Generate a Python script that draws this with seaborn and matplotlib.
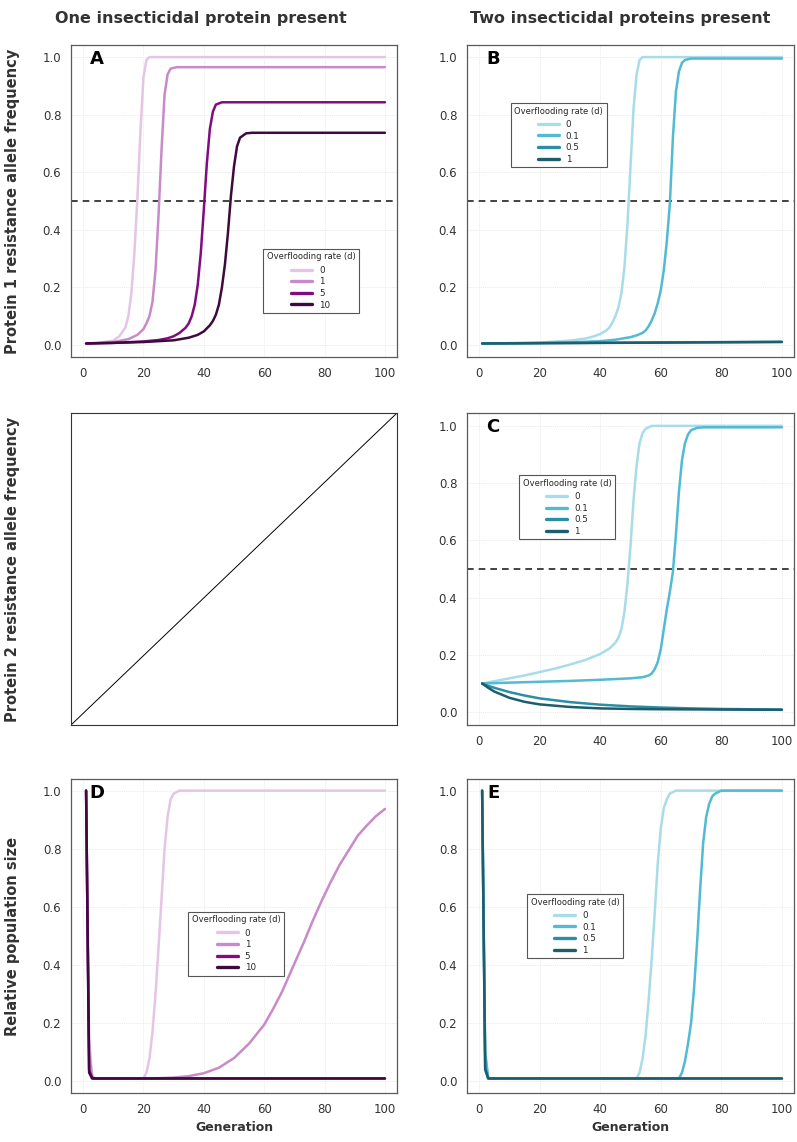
import matplotlib
matplotlib.use("Agg")
import matplotlib.pyplot as plt
import seaborn as sns
import pandas as pd

sns.set_style("white")
plt.rcParams['font.family'] = ['DejaVu Sans']

# ---------------- DATA ----------------
col_titles = ["One insecticidal protein present", "Two insecticidal proteins present"]
row_labels = ["Protein 1 resistance allele frequency",
              "Protein 2 resistance allele frequency",
              "Relative population size"]
x_label = "Generation"
legend_title = "Overflooding rate (d)"
d_one = ["0", "1", "5", "10"]
d_two = ["0", "0.1", "0.5", "1"]
purple_cols = ["#e6c4e6", "#c88ac8", "#800d80", "#3d0a3d"]
blue_cols = ["#a8dce8", "#52bad2", "#2a8ea4", "#1e5d6d"]
x_ticks = [0, 20, 40, 60, 80, 100]
y_ticks = [0.0, 0.2, 0.4, 0.6, 0.8, 1.0]
threshold = 0.5

# Panel A: protein 1 allele frequency, one protein
A_d0_gen = [1, 5, 10, 12, 14, 15, 16, 17, 18, 19, 20, 21, 22, 100]
A_d0_val = [0.005, 0.007, 0.015, 0.03, 0.06, 0.1, 0.18, 0.32, 0.51, 0.74, 0.93, 0.99, 1.0, 1.0]
A_d1_gen = [1, 10, 15, 18, 20, 21, 22, 23, 24, 25, 26, 27, 28, 29, 31, 100]
A_d1_val = [0.005, 0.01, 0.02, 0.035, 0.055, 0.075, 0.1, 0.15, 0.26, 0.45, 0.68, 0.87, 0.94, 0.96, 0.965, 0.965]
A_d5_gen = [1, 10, 20, 25, 28, 30, 32, 34, 35, 36, 37, 38, 39, 40, 41, 42, 43, 44, 46, 100]
A_d5_val = [0.005, 0.007, 0.012, 0.017, 0.023, 0.03, 0.042, 0.06, 0.075, 0.1, 0.14, 0.21, 0.32, 0.47, 0.63, 0.75, 0.81, 0.835, 0.843, 0.843]
A_d10_gen = [1, 10, 20, 30, 35, 38, 40, 42, 43, 44, 45, 46, 47, 48, 49, 50, 51, 52, 54, 56, 100]
A_d10_val = [0.005, 0.007, 0.01, 0.016, 0.025, 0.035, 0.047, 0.068, 0.083, 0.105, 0.14, 0.2, 0.28, 0.39, 0.52, 0.62, 0.69, 0.72, 0.735, 0.737, 0.737]

# Panel B: protein 1 allele frequency, two proteins
B_d0_gen = [1, 10, 20, 30, 35, 38, 40, 42, 43, 44, 45, 46, 47, 48, 49, 50, 51, 52, 53, 54, 100]
B_d0_val = [0.005, 0.006, 0.008, 0.015, 0.022, 0.03, 0.038, 0.05, 0.06, 0.077, 0.1, 0.13, 0.18, 0.27, 0.42, 0.62, 0.82, 0.94, 0.99, 1.0, 1.0]
B_d01_gen = [1, 20, 30, 40, 45, 50, 52, 54, 55, 56, 57, 58, 59, 60, 61, 62, 63, 64, 65, 66, 67, 68, 70, 100]
B_d01_val = [0.005, 0.007, 0.009, 0.013, 0.018, 0.027, 0.033, 0.042, 0.05, 0.065, 0.085, 0.11, 0.145, 0.19, 0.26, 0.36, 0.49, 0.72, 0.88, 0.95, 0.98, 0.99, 0.995, 0.995]
B_d05_gen = [1, 50, 100]
B_d05_val = [0.005, 0.008, 0.011]
B_d1_gen = [1, 50, 100]
B_d1_val = [0.005, 0.0075, 0.01]

# Panel C: protein 2 allele frequency, two proteins
C_d0_gen = [1, 5, 10, 15, 20, 25, 30, 35, 40, 43, 45, 46, 47, 48, 49, 50, 51, 52, 53, 54, 55, 57, 100]
C_d0_val = [0.1, 0.108, 0.118, 0.128, 0.14, 0.152, 0.166, 0.182, 0.203, 0.222, 0.242, 0.26, 0.29, 0.35, 0.45, 0.58, 0.74, 0.86, 0.94, 0.975, 0.99, 1.0, 1.0]
C_d01_gen = [1, 10, 20, 30, 40, 50, 54, 56, 57, 58, 59, 60, 61, 62, 63, 64, 65, 66, 67, 68, 69, 70, 72, 74, 100]
C_d01_val = [0.1, 0.103, 0.106, 0.109, 0.113, 0.118, 0.122, 0.128, 0.135, 0.15, 0.175, 0.22, 0.29, 0.36, 0.42, 0.49, 0.62, 0.77, 0.88, 0.94, 0.97, 0.985, 0.993, 0.995, 0.995]
C_d05_gen = [1, 3, 5, 10, 15, 20, 30, 40, 50, 60, 70, 80, 90, 100]
C_d05_val = [0.1, 0.092, 0.085, 0.07, 0.058, 0.048, 0.035, 0.026, 0.02, 0.016, 0.013, 0.011, 0.01, 0.009]
C_d1_gen = [1, 3, 5, 10, 15, 20, 30, 40, 50, 60, 80, 100]
C_d1_val = [0.1, 0.085, 0.072, 0.05, 0.036, 0.027, 0.018, 0.013, 0.011, 0.01, 0.009, 0.008]

# Panel D: relative population size, one protein
D_d0_gen = [1, 2, 3, 4, 20, 21, 22, 23, 24, 25, 26, 27, 28, 29, 30, 32, 100]
D_d0_val = [1.0, 0.15, 0.02, 0.01, 0.01, 0.03, 0.08, 0.17, 0.3, 0.46, 0.63, 0.8, 0.91, 0.97, 0.99, 1.0, 1.0]
D_d1_gen = [1, 2, 3, 4, 20, 25, 30, 35, 40, 45, 50, 55, 60, 63, 66, 70, 73, 76, 79, 82, 85, 88, 91, 94, 97, 100]
D_d1_val = [1.0, 0.1, 0.015, 0.01, 0.01, 0.011, 0.013, 0.018, 0.028, 0.047, 0.08, 0.13, 0.195, 0.25, 0.31, 0.405, 0.475, 0.55, 0.62, 0.685, 0.745, 0.795, 0.845, 0.88, 0.912, 0.937]
D_d5_gen = [1, 2, 3, 4, 100]
D_d5_val = [1.0, 0.04, 0.011, 0.01, 0.01]
D_d10_gen = [1, 2, 3, 4, 100]
D_d10_val = [1.0, 0.03, 0.01, 0.01, 0.01]

# Panel E: relative population size, two proteins
E_d0_gen = [1, 2, 3, 4, 52, 53, 54, 55, 56, 57, 58, 59, 60, 61, 62, 63, 65, 100]
E_d0_val = [1.0, 0.1, 0.012, 0.01, 0.01, 0.03, 0.08, 0.16, 0.28, 0.42, 0.58, 0.75, 0.87, 0.94, 0.97, 0.99, 1.0, 1.0]
E_d01_gen = [1, 2, 3, 4, 66, 67, 68, 69, 70, 71, 72, 73, 74, 75, 76, 77, 78, 80, 100]
E_d01_val = [1.0, 0.1, 0.012, 0.01, 0.01, 0.03, 0.07, 0.13, 0.2, 0.32, 0.48, 0.66, 0.82, 0.91, 0.955, 0.98, 0.99, 1.0, 1.0]
E_d05_gen = [1, 2, 3, 100]
E_d05_val = [1.0, 0.05, 0.01, 0.01]
E_d1_gen = [1, 2, 3, 100]
E_d1_val = [1.0, 0.04, 0.01, 0.01]


def frame(labels, gens, vals):
    parts = []
    for lab, g, v in zip(labels, gens, vals):
        parts.append(pd.DataFrame({"Generation": g, "value": v, "d": lab}))
    return pd.concat(parts, ignore_index=True)


panels = {
    "A": frame(d_one, [A_d0_gen, A_d1_gen, A_d5_gen, A_d10_gen], [A_d0_val, A_d1_val, A_d5_val, A_d10_val]),
    "B": frame(d_two, [B_d0_gen, B_d01_gen, B_d05_gen, B_d1_gen], [B_d0_val, B_d01_val, B_d05_val, B_d1_val]),
    "C": frame(d_two, [C_d0_gen, C_d01_gen, C_d05_gen, C_d1_gen], [C_d0_val, C_d01_val, C_d05_val, C_d1_val]),
    "D": frame(d_one, [D_d0_gen, D_d1_gen, D_d5_gen, D_d10_gen], [D_d0_val, D_d1_val, D_d5_val, D_d10_val]),
    "E": frame(d_two, [E_d0_gen, E_d01_gen, E_d05_gen, E_d1_gen], [E_d0_val, E_d01_val, E_d05_val, E_d1_val]),
}

# ---------------- LAYOUT ----------------
W, H = 797, 1142
fig = plt.figure(figsize=(W / 100, H / 100), dpi=100)


def add_ax(left, top, right, bottom):
    return fig.add_axes([left / W, 1 - bottom / H, (right - left) / W, (bottom - top) / H])


cols = [(71, 397), (467, 794)]
rows = [(45, 357), (413, 725), (779, 1093)]
ylims = [(-0.042, 1.042), (-0.045, 1.045), (-0.04, 1.04)]

spec = {
    "A": dict(r=0, c=0, labels=d_one, pal=purple_cols, thr=True, leg=(0.589, 0.141)),
    "B": dict(r=0, c=1, labels=d_two, pal=blue_cols, thr=True, leg=(0.134, 0.608)),
    "C": dict(r=1, c=1, labels=d_two, pal=blue_cols, thr=True, leg=(0.16, 0.595)),
    "D": dict(r=2, c=0, labels=d_one, pal=purple_cols, thr=False, leg=(0.36, 0.373)),
    "E": dict(r=2, c=1, labels=d_two, pal=blue_cols, thr=False, leg=(0.184, 0.429)),
}

spine_col = "#5a5a5a"
for key, s in spec.items():
    (l, rr), (t, b) = cols[s["c"]], rows[s["r"]]
    ax = add_ax(l, t, rr, b)
    df = panels[key]
    sns.lineplot(data=df, x="Generation", y="value", hue="d", hue_order=s["labels"],
                 palette=dict(zip(s["labels"], s["pal"])), estimator=None, sort=True,
                 linewidth=1.8, ax=ax, legend=True)
    if s["thr"]:
        ax.axhline(threshold, color="#222222", lw=1.2, ls=(0, (4, 3)), zorder=1)
    ax.set_xlim(-4, 104)
    ax.set_ylim(*ylims[s["r"]])
    ax.set_xticks(x_ticks)
    ax.set_yticks(y_ticks)
    ax.set_yticklabels([f"{v:.1f}" for v in y_ticks])
    ax.grid(True, color="#ebebeb", lw=0.7, ls=(0, (1, 1)))
    ax.set_axisbelow(True)
    for sp in ax.spines.values():
        sp.set_color(spine_col)
        sp.set_linewidth(0.9)
    ax.tick_params(axis="both", direction="out", length=4, width=0.8, color=spine_col,
                   labelsize=8.5, labelcolor="#333333", pad=3)
    ax.set_ylabel("")
    ax.set_xlabel(x_label if s["r"] == 2 else "", fontsize=9, fontweight="bold", color="#333333", labelpad=4)
    ax.text(0.08, 0.955, key, transform=ax.transAxes, ha="center", va="center",
            fontsize=13, fontweight="bold", color="black")
    handles, labs = ax.get_legend_handles_labels()
    leg = ax.legend(handles, labs, title=legend_title, loc="lower left",
                    bbox_to_anchor=s["leg"], fontsize=6.3, title_fontsize=6.0,
                    frameon=True, fancybox=False, edgecolor="#555555", framealpha=1,
                    handlelength=2.4, handletextpad=0.8, labelspacing=0.3,
                    borderpad=0.4, borderaxespad=0)
    leg.get_frame().set_linewidth(0.8)
    leg._legend_box.sep = 3
    for ln in leg.get_lines():
        ln.set_linewidth(2.4)

# empty panel (row 2, column 1)
(l, rr), (t, b) = cols[0], rows[1]
ax0 = add_ax(l, t, rr, b)
ax0.set_xticks([])
ax0.set_yticks([])
for sp in ax0.spines.values():
    sp.set_color("#333333")
    sp.set_linewidth(0.8)
ax0.plot([0, 1], [0, 1], transform=ax0.transAxes, color="black", lw=0.7)

# column titles
fig.text(201 / W, 1 - 18 / H, col_titles[0], ha="center", va="center", fontsize=11.5, fontweight="bold", color="#333333")
fig.text(620 / W, 1 - 18 / H, col_titles[1], ha="center", va="center", fontsize=11.5, fontweight="bold", color="#333333")
# row labels
for (t, b), lab in zip(rows, row_labels):
    fig.text(13 / W, 1 - ((t + b) / 2) / H, lab, rotation=90, ha="center", va="center",
             fontsize=10.5, fontweight="bold", color="#333333")

fig.savefig("out.png", dpi=100)
